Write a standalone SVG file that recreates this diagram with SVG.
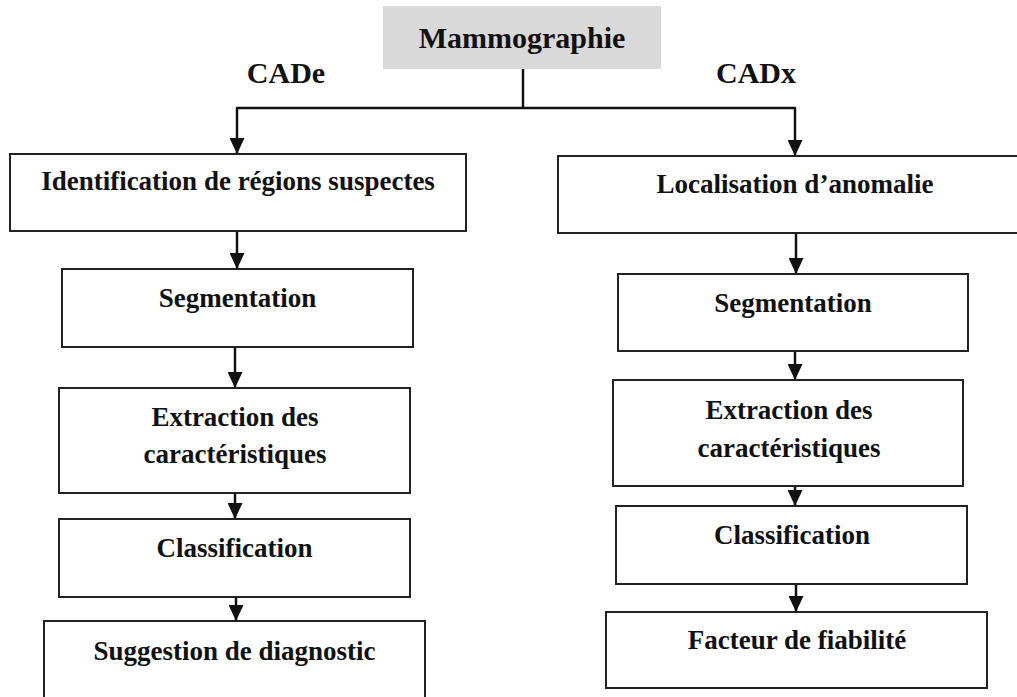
<svg xmlns="http://www.w3.org/2000/svg" width="1017" height="697" viewBox="0 0 1017 697">
  <style>
    .box { fill: #ffffff; stroke: #222222; stroke-width: 2; }
    .gray { fill: #d9d9d9; stroke: none; }
    .t { font-family: "Liberation Serif", "Times New Roman", serif; font-weight: bold; font-size: 27px; fill: #111111; text-anchor: middle; }
    .h { font-family: "Liberation Serif", "Times New Roman", serif; font-weight: bold; font-size: 30px; fill: #111111; text-anchor: middle; }
    .c { fill: none; stroke: #111111; stroke-width: 2.5; }
  </style>
  <defs>
    <marker id="arr" viewBox="0 0 16 16" refX="16" refY="8" markerWidth="16" markerHeight="15" orient="auto" markerUnits="userSpaceOnUse" preserveAspectRatio="none">
      <path d="M0,0 L16,8 L0,16 Z" fill="#111111"/>
    </marker>
  </defs>
  <rect width="1017" height="697" fill="#ffffff"/>

  <g id="connectors">
    <path class="c" d="M523,69 V108"/>
    <path class="c" d="M236,108 H796"/>
    <path class="c" d="M237,108 V154" marker-end="url(#arr)"/>
    <path class="c" d="M795,108 V156" marker-end="url(#arr)"/>
    <path class="c" d="M237,231 V269" marker-end="url(#arr)"/>
    <path class="c" d="M235,347 V388" marker-end="url(#arr)"/>
    <path class="c" d="M235,493 V519" marker-end="url(#arr)"/>
    <path class="c" d="M236,597 V621" marker-end="url(#arr)"/>
    <path class="c" d="M796,233 V274" marker-end="url(#arr)"/>
    <path class="c" d="M795,351 V380" marker-end="url(#arr)"/>
    <path class="c" d="M795,486 V506" marker-end="url(#arr)"/>
    <path class="c" d="M796,584 V612" marker-end="url(#arr)"/>
  </g>

  <g id="mammographie">
    <rect class="gray" x="383" y="6" width="278" height="63"/>
    <text class="h" x="522" y="48">Mammographie</text>
  </g>
  <g id="label-cade">
    <text class="h" x="286" y="83">CADe</text>
  </g>
  <g id="label-cadx">
    <text class="h" x="756" y="83">CADx</text>
  </g>

  <g id="identification">
    <rect class="box" x="10" y="154" width="456" height="77"/>
    <text class="t" x="238" y="190">Identification de régions suspectes</text>
  </g>
  <g id="segmentation-left">
    <rect class="box" x="62" y="269" width="351" height="78"/>
    <text class="t" x="237.5" y="307">Segmentation</text>
  </g>
  <g id="extraction-left">
    <rect class="box" x="59" y="388" width="351" height="105"/>
    <text class="t" x="235" y="426">Extraction des</text>
    <text class="t" x="235" y="463">caractéristiques</text>
  </g>
  <g id="classification-left">
    <rect class="box" x="59" y="519" width="351" height="78"/>
    <text class="t" x="234.5" y="557">Classification</text>
  </g>
  <g id="suggestion">
    <rect class="box" x="44" y="621" width="381" height="90"/>
    <text class="t" x="234.5" y="660">Suggestion de diagnostic</text>
  </g>

  <g id="localisation">
    <rect class="box" x="558" y="156" width="472" height="77"/>
    <text class="t" x="795" y="193">Localisation d’anomalie</text>
  </g>
  <g id="segmentation-right">
    <rect class="box" x="618" y="274" width="350" height="77"/>
    <text class="t" x="793" y="312">Segmentation</text>
  </g>
  <g id="extraction-right">
    <rect class="box" x="613" y="380" width="350" height="106"/>
    <text class="t" x="789" y="419">Extraction des</text>
    <text class="t" x="789" y="457">caractéristiques</text>
  </g>
  <g id="classification-right">
    <rect class="box" x="616" y="506" width="351" height="78"/>
    <text class="t" x="792" y="544">Classification</text>
  </g>
  <g id="facteur">
    <rect class="box" x="606" y="612" width="381" height="76"/>
    <text class="t" x="797" y="649">Facteur de fiabilité</text>
  </g>
</svg>
